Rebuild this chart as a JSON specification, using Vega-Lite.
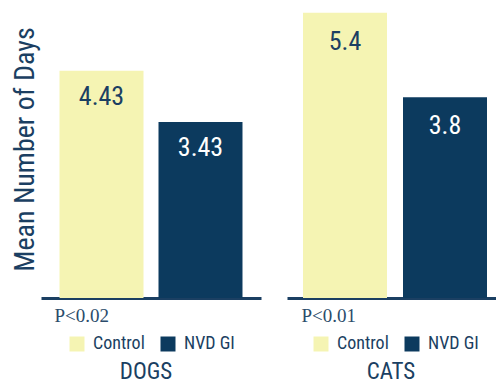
{
  "$schema": "https://vega.github.io/schema/vega-lite/v6.json",
  "padding": {"left": 10, "top": 0, "right": 0, "bottom": 0},
  "background": "white",
  "datasets": {
    "days": [
      {"species": "DOGS", "group": "Control", "days": 4.43},
      {"species": "DOGS", "group": "NVD GI", "days": 3.43},
      {"species": "CATS", "group": "Control", "days": 5.4},
      {"species": "CATS", "group": "NVD GI", "days": 3.8}
    ]
  },
  "spacing": 26,
  "hconcat": [
    {
      "width": 220,
      "height": 298,
      "data": {"name": "days"},
      "transform": [{"filter": "datum.species === 'DOGS'"}],
      "title": {"text": "DOGS", "orient": "bottom", "dx": -5, "fontSize": 23, "fontWeight": "normal", "offset": 8},
      "encoding": {
        "x": {
          "field": "group",
          "type": "nominal",
          "sort": ["Control", "NVD GI"],
          "scale": {"paddingInner": 0.1515, "paddingOuter": 0.187},
          "axis": {"title": "P<0.02", "titleX": 13}
        },
        "y": {
          "field": "days",
          "type": "quantitative",
          "scale": {"domain": [0, 5.81], "nice": false},
          "axis": {
            "title": "Mean Number of Days",
            "labels": false,
            "ticks": false,
            "domain": false,
            "grid": false,
            "titleFontSize": 28,
            "titlePadding": 2
          }
        }
      },
      "layer": [
        {
          "mark": {"type": "bar"},
          "encoding": {
            "color": {
              "field": "group",
              "type": "nominal",
              "scale": {"domain": ["Control", "NVD GI"], "range": ["#f5f4b3", "#0c3a5e"]},
              "legend": {"title": null}
            }
          }
        },
        {
          "mark": {"type": "text", "baseline": "top", "dy": 13, "fontSize": 26, "font": "Roboto Condensed, Noto Sans Condensed, Open Sans Condensed, Liberation Sans Narrow, Roboto, sans-serif"},
          "encoding": {
            "text": {"field": "days", "type": "quantitative", "format": ".2~f"},
            "color": {"condition": {"test": "datum.group === 'Control'", "value": "#1b3f62"}, "value": "#ffffff"}
          }
        }
      ]
    },
    {
      "width": 216,
      "height": 298,
      "data": {"name": "days"},
      "transform": [{"filter": "datum.species === 'CATS'"}],
      "title": {"text": "CATS", "orient": "bottom", "dx": -4, "fontSize": 23, "fontWeight": "normal", "offset": 8},
      "encoding": {
        "x": {
          "field": "group",
          "type": "nominal",
          "sort": ["Control", "NVD GI"],
          "scale": {"paddingInner": 0.16, "paddingOuter": 0.16},
          "axis": {"title": "P<0.01", "titleX": 14}
        },
        "y": {
          "field": "days",
          "type": "quantitative",
          "scale": {"domain": [0, 5.64], "nice": false},
          "axis": null
        }
      },
      "layer": [
        {
          "mark": {"type": "bar"},
          "encoding": {
            "color": {
              "field": "group",
              "type": "nominal",
              "scale": {"domain": ["Control", "NVD GI"], "range": ["#f5f4b3", "#0c3a5e"]},
              "legend": {"title": null}
            }
          }
        },
        {
          "mark": {"type": "text", "baseline": "top", "dy": 16, "fontSize": 26, "font": "Roboto Condensed, Noto Sans Condensed, Open Sans Condensed, Liberation Sans Narrow, Roboto, sans-serif"},
          "encoding": {
            "text": {"field": "days", "type": "quantitative", "format": ".2~f"},
            "color": {"condition": {"test": "datum.group === 'Control'", "value": "#1b3f62"}, "value": "#ffffff"}
          }
        }
      ]
    }
  ],
  "resolve": {
    "scale": {"color": "independent", "y": "independent"},
    "legend": {"color": "independent"}
  },
  "config": {
    "view": {"stroke": null},
    "font": "Roboto Condensed, Noto Sans Condensed, Open Sans Condensed, Liberation Sans Narrow, Roboto, sans-serif",
    "axisX": {
      "labels": false,
      "ticks": false,
      "grid": false,
      "domainColor": "#1b3f62",
      "domainWidth": 3,
      "titleFont": "Liberation Serif, Times New Roman, serif",
      "titleFontSize": 19,
      "titleFontWeight": "normal",
      "titleColor": "#2b4c6b",
      "titleAnchor": "start",
      "titleAlign": "left",
      "titleBaseline": "alphabetic",
      "titlePadding": 23
    },
    "axisY": {
      "titleFont": "Roboto Condensed, Noto Sans Condensed, Open Sans Condensed, Liberation Sans Narrow, Roboto, sans-serif",
      "titleFontWeight": "normal",
      "titleColor": "#1b3f62"
    },
    "legend": {
      "orient": "bottom",
      "direction": "horizontal",
      "layout": {"bottom": {"anchor": "middle"}},
      "symbolType": "square",
      "symbolSize": 225,
      "symbolStrokeWidth": 0,
      "symbolOpacity": 1,
      "labelFont": "Roboto Condensed, Noto Sans Condensed, Open Sans Condensed, Liberation Sans Narrow, Roboto, sans-serif",
      "labelFontSize": 18,
      "labelColor": "#1b3f62",
      "labelOffset": 7,
      "columnPadding": 14,
      "offset": 10
    },
    "title": {
      "font": "Roboto Condensed, Noto Sans Condensed, Open Sans Condensed, Liberation Sans Narrow, Roboto, sans-serif",
      "color": "#1b3f62"
    }
  }
}
